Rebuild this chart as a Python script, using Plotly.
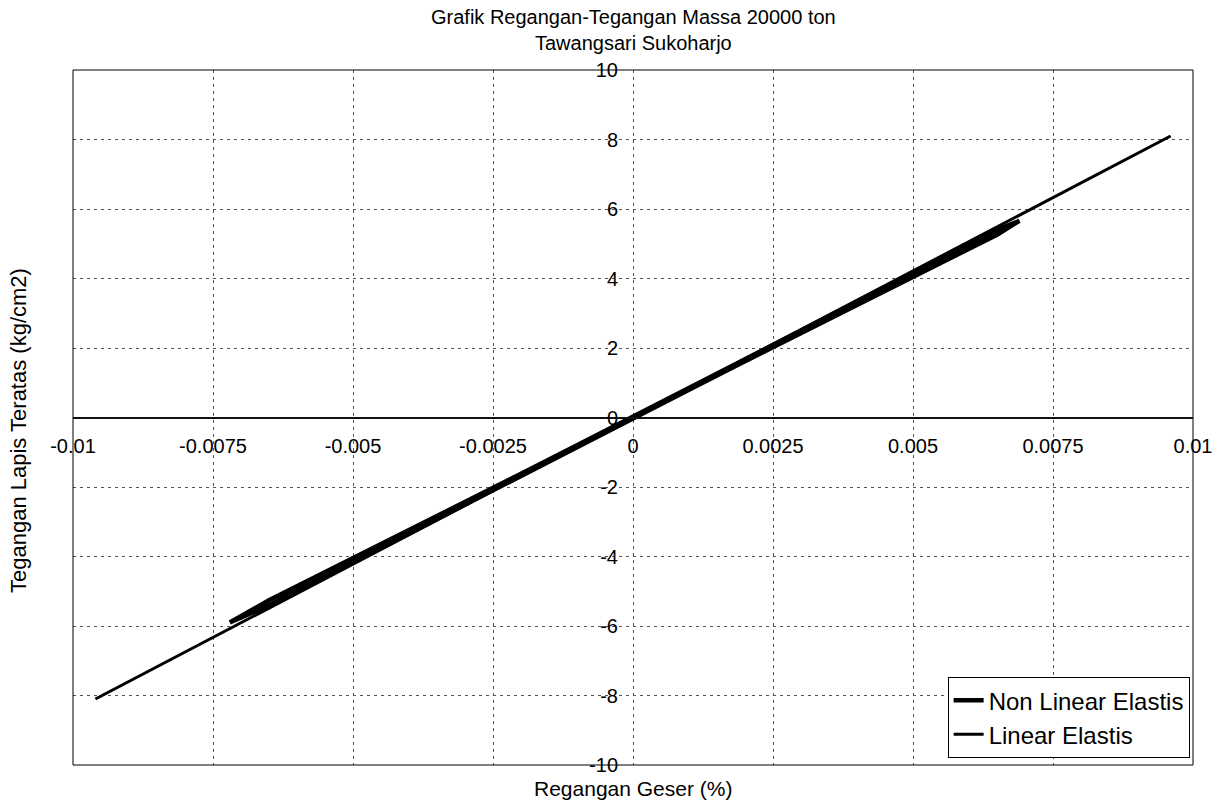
import plotly.graph_objects as go

# ---- data ----
linear_x = [-0.0096, 0.0096]
linear_y = [-8.1, 8.1]

nonlinear_x = [-0.0072, -0.0065, -0.006, -0.005, -0.004, -0.003, -0.002, -0.001, 0.0,
               0.001, 0.002, 0.003, 0.004, 0.005, 0.006, 0.0065, 0.0069,
               0.0065, 0.006, 0.005, 0.004, 0.003, 0.002, 0.001, 0.0,
               -0.001, -0.002, -0.003, -0.004, -0.005, -0.006, -0.0065, -0.0072]
nonlinear_y = [-5.90, -5.41, -4.99, -4.16, -3.32, -2.49, -1.66, -0.84, -0.02,
               0.80, 1.62, 2.43, 3.24, 4.05, 4.86, 5.26, 5.66,
               5.40, 4.98, 4.15, 3.32, 2.49, 1.66, 0.84, 0.02,
               -0.80, -1.62, -2.43, -3.24, -4.04, -4.85, -5.26, -5.90]

x_tickvals = [-0.01, -0.0075, -0.005, -0.0025, 0, 0.0025, 0.005, 0.0075, 0.01]
x_ticktext = ["-0.01", "-0.0075", "-0.005", "-0.0025", "0", "0.0025", "0.005", "0.0075", "0.01"]
y_tickvals = [-10, -8, -6, -4, -2, 0, 2, 4, 6, 8, 10]
y_ticktext = ["-10", "-8", "-6", "-4", "-2", "0", "2", "4", "6", "8", "10"]

title_text = "Grafik Regangan-Tegangan Massa 20000 ton<br>Tawangsari Sukoharjo"
x_title = "Regangan Geser (%)"
y_title = "Tegangan Lapis Teratas (kg/cm2)"

FONT = "Liberation Sans, Arial, sans-serif"

fig = go.Figure()
fig.add_trace(go.Scatter(x=nonlinear_x, y=nonlinear_y, mode="lines",
                         name="Non Linear Elastis",
                         line=dict(color="black", width=4.5)))
fig.add_trace(go.Scatter(x=linear_x, y=linear_y, mode="lines",
                         name="Linear Elastis",
                         line=dict(color="black", width=3)))

fig.update_layout(
    width=1229, height=803,
    margin=dict(l=73, r=36, t=70, b=38),
    paper_bgcolor="white", plot_bgcolor="white",
    font=dict(family=FONT, size=20, color="black"),
    xaxis=dict(range=[-0.01, 0.01], tickvals=x_tickvals, ticktext=x_ticktext,
               anchor="free", position=0.5, side="bottom",
               showline=True, linecolor="#111111", linewidth=1.5,
               showgrid=True, gridcolor="#555555", gridwidth=1, griddash="3px,4px",
               zeroline=False, ticks="", ticklabelstandoff=11,
               tickfont=dict(family=FONT, size=20, color="black")),
    yaxis=dict(range=[-10, 10], tickvals=y_tickvals, ticktext=y_ticktext,
               anchor="free", position=0.5, side="left",
               showline=False,
               showgrid=True, gridcolor="#555555", gridwidth=1, griddash="3px,4px",
               zeroline=False, ticks="", ticklabelstandoff=15,
               tickfont=dict(family=FONT, size=20, color="black")),
    legend=dict(x=0.997, y=0.01, xanchor="right", yanchor="bottom",
                bgcolor="white", bordercolor="black", borderwidth=1,
                font=dict(family=FONT, size=24, color="black")),
    showlegend=True,
    shapes=[dict(type="rect", xref="paper", yref="paper", x0=0, x1=1, y0=0, y1=1,
                 line=dict(color="black", width=1), layer="above")],
    annotations=[
        dict(text=title_text, xref="paper", yref="paper", x=0.5, y=1, yshift=14,
             xanchor="center", yanchor="bottom", showarrow=False,
             font=dict(family=FONT, size=20, color="black")),
        dict(text=x_title, xref="paper", yref="paper", x=0.5, y=0, yshift=-10,
             xanchor="center", yanchor="top", showarrow=False,
             font=dict(family=FONT, size=21, color="black")),
        dict(text=y_title, xref="paper", yref="paper", x=0, y=0.5, xshift=-40, yshift=-13,
             xanchor="right", yanchor="middle", textangle=-90, showarrow=False,
             font=dict(family=FONT, size=22, color="black")),
    ],
)

fig.write_html("out.html", config={"displayModeBar": False},
               post_script="document.body.style.margin='0';document.body.style.overflow='hidden';")
